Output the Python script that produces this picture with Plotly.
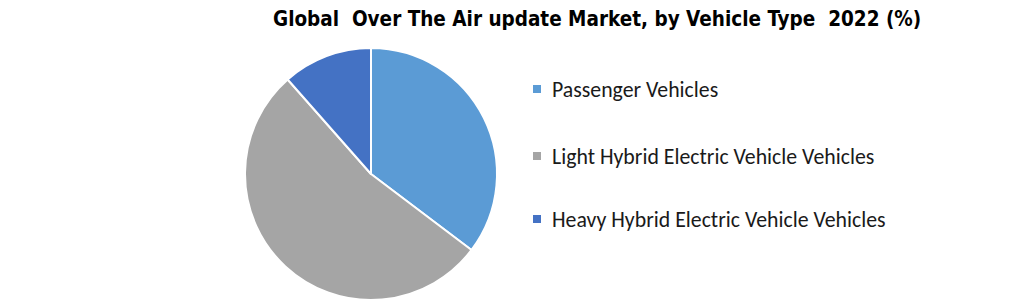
import plotly.graph_objects as go

title = "Global&nbsp; Over The Air update Market, by Vehicle Type&nbsp; 2022 (%)"
labels = ["Passenger Vehicles",
          "Light Hybrid Electric Vehicle Vehicles",
          "Heavy Hybrid Electric Vehicle Vehicles"]
values = [35.3, 53.2, 11.5]
colors = ["#5B9BD5", "#A5A5A5", "#4472C4"]

W, H = 1020, 303
cx, cy, r = 371, 174, 126

fig = go.Figure()
fig.add_trace(go.Pie(
    labels=labels, values=values, sort=False, direction="clockwise", rotation=0,
    marker=dict(colors=colors, line=dict(color="white", width=2)),
    textinfo="none", hoverinfo="label+percent", showlegend=False,
    domain=dict(x=[(cx - r) / W, (cx + r) / W], y=[1 - (cy + r) / H, 1 - (cy - r) / H]),
))

# custom legend
leg_x = 537
leg_y = [89, 156, 219]
for lab, col, y in zip(labels, colors, leg_y):
    fig.add_shape(type="rect", xref="paper", yref="paper",
                  x0=(leg_x - 4) / W, x1=(leg_x + 4) / W,
                  y0=1 - (y + 4) / H, y1=1 - (y - 4) / H,
                  fillcolor=col, line=dict(width=0))
    fig.add_annotation(text=lab, xref="paper", yref="paper",
                       x=(leg_x + 13) / W, y=1 - y / H, xanchor="left", yanchor="middle",
                       showarrow=False, font=dict(family="Carlito, Open Sans, sans-serif", size=21.8, color="#1a1a1a"))

fig.add_annotation(text="<b>" + title + "</b>", xref="paper", yref="paper",
                   x=597 / W, y=1 - 19 / H, xanchor="center", yanchor="middle", showarrow=False,
                   font=dict(family="DejaVu Sans Condensed, Liberation Sans Narrow, sans-serif", size=20.5, color="black"))

fig.update_layout(width=W, height=H, margin=dict(l=0, r=0, t=0, b=0),
                  paper_bgcolor="white", plot_bgcolor="white")
fig.write_html("out.html")
